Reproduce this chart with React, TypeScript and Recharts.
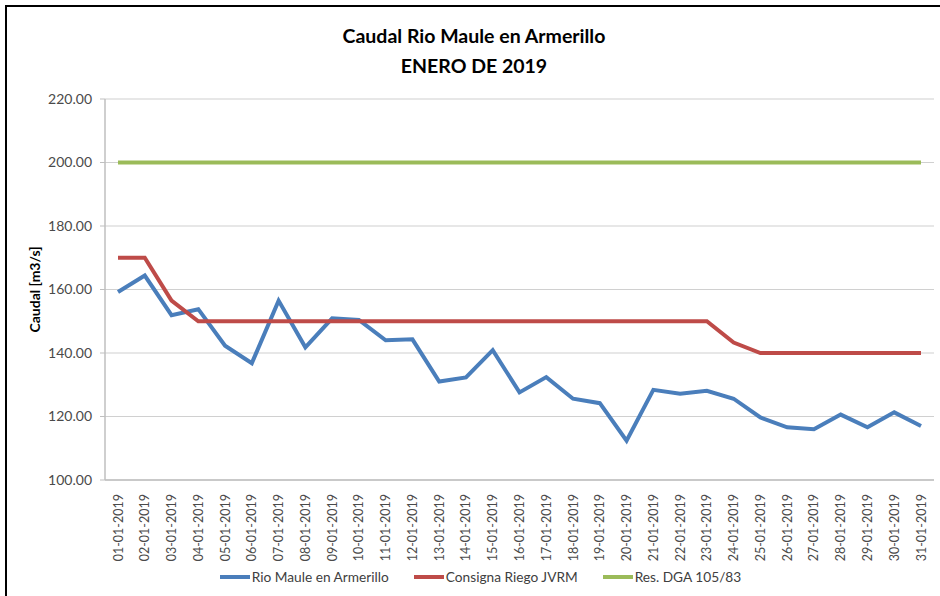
import React from "react";
import { LineChart, Line, XAxis, YAxis, CartesianGrid, Legend } from "recharts";

const dates = [
  "01-01-2019","02-01-2019","03-01-2019","04-01-2019","05-01-2019","06-01-2019","07-01-2019","08-01-2019",
  "09-01-2019","10-01-2019","11-01-2019","12-01-2019","13-01-2019","14-01-2019","15-01-2019","16-01-2019",
  "17-01-2019","18-01-2019","19-01-2019","20-01-2019","21-01-2019","22-01-2019","23-01-2019","24-01-2019",
  "25-01-2019","26-01-2019","27-01-2019","28-01-2019","29-01-2019","30-01-2019","31-01-2019",
];

const rioMaule = [
  159.2, 164.4, 151.9, 153.8, 142.3, 136.8, 156.5, 141.8, 150.9, 150.4, 144.0, 144.3, 131.0, 132.3, 140.9, 127.6,
  132.4, 125.6, 124.2, 112.4, 128.4, 127.2, 128.1, 125.6, 119.7, 116.6, 116.0, 120.6, 116.6, 121.3, 117.0,
];

const consignaRiego = [
  170, 170, 156.5, 150, 150, 150, 150, 150, 150, 150, 150, 150, 150, 150, 150, 150,
  150, 150, 150, 150, 150, 150, 150, 143.3, 140, 140, 140, 140, 140, 140, 140,
];

const resDGA = [
  200, 200, 200, 200, 200, 200, 200, 200, 200, 200, 200, 200, 200, 200, 200, 200,
  200, 200, 200, 200, 200, 200, 200, 200, 200, 200, 200, 200, 200, 200, 200,
];

const yTicks = [100, 120, 140, 160, 180, 200, 220];

const seriesNames = ["Rio Maule en Armerillo", "Consigna Riego JVRM", "Res. DGA 105/83"];
const seriesColors = ["#4A7EBB", "#BE4B48", "#9BBB59"];

const data = dates.map((d, i) => ({
  date: d,
  rio: rioMaule[i],
  consigna: consignaRiego[i],
  dga: resDGA[i],
}));

const FONT = "Lato, 'Open Sans', sans-serif";

const XTick = (props: any) => {
  const { x, y, payload } = props;
  const ax = x + 4.5;
  const ay = y + 6;
  return (
    <text
      x={ax}
      y={ay}
      transform={`rotate(-90 ${ax} ${ay})`}
      textAnchor="end"
      fontSize={12.5}
      fill="#4A4A4A"
      fontFamily={FONT}
    >
      {payload.value}
    </text>
  );
};

const LegendContent = () => (
  <div
    style={{
      display: "flex",
      justifyContent: "center",
      gap: 25,
      paddingLeft: 21,
      fontFamily: FONT,
      fontSize: 13.7,
      color: "#404040",
      alignItems: "center",
    }}
  >
    {seriesNames.map((n, i) => (
      <div key={n} style={{ display: "flex", alignItems: "center" }}>
        <span
          style={{
            display: "inline-block",
            width: 30,
            height: 4,
            background: seriesColors[i],
            marginRight: 2,
          }}
        />
        <span>{n}</span>
      </div>
    ))}
  </div>
);

export default function App() {
  return (
    <div style={{ position: "fixed", left: 0, top: 0, width: 940, height: 596, background: "#fff", overflow: "hidden" }}>
      <div
        style={{
          position: "absolute",
          left: 5,
          top: 5,
          width: 960,
          height: 620,
          borderLeft: "2px solid #000",
          borderTop: "2px solid #000",
        }}
      />
      <div
        style={{
          position: "absolute",
          left: 0,
          width: 940,
          top: 21,
          paddingLeft: 4,
          textAlign: "center",
          fontFamily: FONT,
          fontWeight: 700,
          fontSize: 19.5,
          lineHeight: "30px",
          color: "#000",
        }}
      >
        <div>Caudal Rio Maule en Armerillo</div>
        <div>ENERO DE 2019</div>
      </div>
      <div style={{ position: "absolute", left: 0, top: 0 }}>
        <LineChart
          width={940}
          height={596}
          data={data}
          margin={{ top: 99, right: 6, bottom: 36, left: 0 }}
        >
          <CartesianGrid horizontal={true} vertical={false} stroke="#D0D0D0" strokeWidth={1.2} yAxisId="l" />
          <XAxis
            dataKey="date"
            interval={0}
            tick={<XTick />}
            tickLine={false}
            axisLine={{ stroke: "#BFBFBF", strokeWidth: 1.5 }}
            height={80}
            padding={{ left: 13, right: 13 }}
          />
          <YAxis
            yAxisId="l"
            domain={[100, 220]}
            ticks={yTicks}
            width={105}
            tickFormatter={(v: number) => v.toFixed(2)}
            tick={{ fontSize: 14, fill: "#4A4A4A", fontFamily: FONT }}
            tickLine={{ stroke: "#BFBFBF" }}
            tickSize={5}
            tickMargin={8}
            axisLine={{ stroke: "#BFBFBF", strokeWidth: 1.5 }}
            label={{
              value: "Caudal [m3/s]",
              angle: -90,
              position: "insideLeft",
              dx: 30,
              dy: 0,
              style: { fontSize: 14, fontWeight: 700, fill: "#000", fontFamily: FONT, textAnchor: "middle" },
            }}
          />
          <YAxis
            yAxisId="r"
            orientation="right"
            domain={[100, 220]}
            ticks={yTicks}
            width={0}
            tick={false}
            tickLine={false}
            axisLine={{ stroke: "#BFBFBF", strokeWidth: 1.5 }}
          />
          <Legend
            layout="horizontal"
            verticalAlign="middle"
            align="center"
            content={<LegendContent />}
            wrapperStyle={{ top: 568, left: 0, width: 940 }}
          />
          <Line yAxisId="l" type="linear" dataKey="rio" name={seriesNames[0]} stroke={seriesColors[0]} strokeWidth={4} dot={false} isAnimationActive={false} />
          <Line yAxisId="l" type="linear" dataKey="consigna" name={seriesNames[1]} stroke={seriesColors[1]} strokeWidth={4} dot={false} isAnimationActive={false} />
          <Line yAxisId="l" type="linear" dataKey="dga" name={seriesNames[2]} stroke={seriesColors[2]} strokeWidth={4} dot={false} isAnimationActive={false} />
        </LineChart>
      </div>
    </div>
  );
}
